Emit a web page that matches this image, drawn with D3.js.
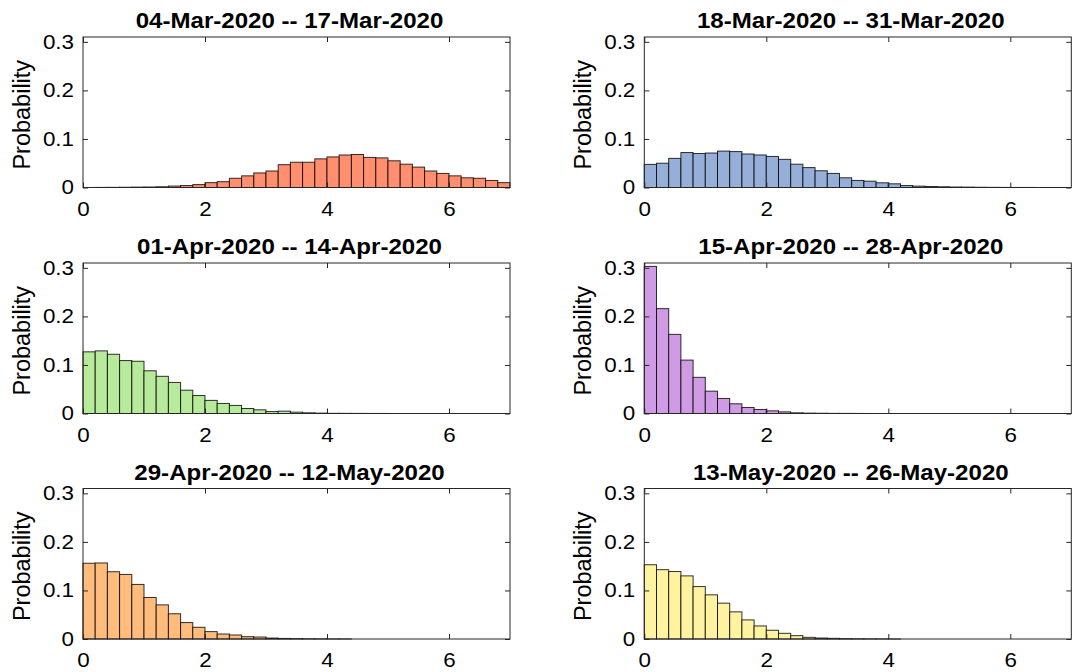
<!DOCTYPE html>
<html>
<head>
<meta charset="utf-8">
<script src="https://cdn.jsdelivr.net/npm/d3@7"></script>
<style>
  html, body { margin: 0; padding: 0; background: #fff; }
  svg { display: block; font-family: "Liberation Sans", Arial, Helvetica, sans-serif; }
</style>
</head>
<body>
<svg id="chart" width="1077" height="672"></svg>
<script>
// Histogram bins: 35 bins of width 0.2 covering [0, 7]
const binWidth = 0.2;

const periodTitles = [
  "04-Mar-2020 -- 17-Mar-2020",
  "18-Mar-2020 -- 31-Mar-2020",
  "01-Apr-2020 -- 14-Apr-2020",
  "15-Apr-2020 -- 28-Apr-2020",
  "29-Apr-2020 -- 12-May-2020",
  "13-May-2020 -- 26-May-2020"
];

const periodColors = ["#ff8f6f", "#95afd8", "#b7ea9a", "#cf9be4", "#ffbc7c", "#fff2a0"];

// Probability per bin for each two-week period
const probMar04 = [0, 0.0002, 0.0003, 0.0005, 0.0008, 0.001, 0.0015, 0.003, 0.004, 0.006,
  0.010, 0.012, 0.019, 0.024, 0.030, 0.034, 0.047, 0.052, 0.052, 0.059,
  0.063, 0.067, 0.068, 0.062, 0.061, 0.055, 0.048, 0.042, 0.034, 0.029,
  0.024, 0.020, 0.019, 0.0145, 0.010];
const probMar18 = [0.0476, 0.050, 0.060, 0.072, 0.070, 0.071, 0.075, 0.074, 0.069, 0.067,
  0.064, 0.058, 0.048, 0.041, 0.0345, 0.029, 0.020, 0.0145, 0.013, 0.0097,
  0.0076, 0.004, 0.0028, 0.002, 0.0015, 0.001, 0.0008, 0.0005, 0.0003, 0.0002,
  0.0001, 0.0001, 0, 0, 0];
const probApr01 = [0.127, 0.129, 0.122, 0.109, 0.1076, 0.088, 0.0766, 0.064, 0.048, 0.037,
  0.027, 0.0207, 0.0166, 0.0103, 0.0076, 0.004, 0.0048, 0.0028, 0.0014, 0.0008,
  0.0004, 0.0003, 0.0002, 0.0001, 0.0001, 0, 0, 0, 0, 0,
  0, 0, 0, 0, 0];
const probApr15 = [0.303, 0.216, 0.163, 0.110, 0.0745, 0.046, 0.031, 0.020, 0.0124, 0.0083,
  0.0055, 0.0034, 0.0014, 0.0008, 0.0005, 0.0003, 0.0002, 0.0001, 0, 0,
  0, 0, 0, 0, 0, 0, 0, 0, 0, 0,
  0, 0, 0, 0, 0];
const probApr29 = [0.156, 0.1566, 0.1386, 0.133, 0.1124, 0.0855, 0.0703, 0.052, 0.0338, 0.0241,
  0.0152, 0.0103, 0.0083, 0.0048, 0.0041, 0.002, 0.0012, 0.0008, 0.0005, 0.0003,
  0.0002, 0.0001, 0, 0, 0, 0, 0, 0, 0, 0,
  0, 0, 0, 0, 0];
const probMay13 = [0.153, 0.1428, 0.139, 0.130, 0.108, 0.091, 0.0738, 0.0559, 0.0393, 0.0269,
  0.018, 0.0117, 0.0069, 0.0034, 0.002, 0.0014, 0.0008, 0.0005, 0.0003, 0.0002,
  0.0001, 0, 0, 0, 0, 0, 0, 0, 0, 0,
  0, 0, 0, 0, 0];

const seriesList = [probMar04, probMar18, probApr01, probApr15, probApr29, probMay13];

const xTicks = [0, 2, 4, 6];
const yTicks = [0, 0.1, 0.2, 0.3];
const xDomain = [0, 7];
const yDomain = [0, 0.31];

// Panel grid geometry
const colLeft = [83, 644.3];
const rowTop = [37, 263, 488.5];
const plotW = 427;
const plotH = 150.5;
const axisColor = "#262626";
const textStretch = 1.12;   // slightly widened glyphs

const svg = d3.select("#chart");

seriesList.forEach((values, i) => {
  const col = i % 2, row = Math.floor(i / 2);
  const g = svg.append("g")
    .attr("transform", `translate(${colLeft[col]},${rowTop[row]})`);

  const x = d3.scaleLinear().domain(xDomain).range([0, plotW]);
  const y = d3.scaleLinear().domain(yDomain).range([plotH, 0]);

  const bins = values.map((v, k) => ({ x0: k * binWidth, x1: (k + 1) * binWidth, p: v }));

  g.append("g").selectAll("rect")
    .data(bins)
    .join("rect")
    .attr("x", d => x(d.x0))
    .attr("width", d => x(d.x1) - x(d.x0))
    .attr("y", d => y(d.p))
    .attr("height", d => y(0) - y(d.p))
    .attr("fill", periodColors[i])
    .attr("stroke", "#000")
    .attr("stroke-opacity", 0.8)
    .attr("stroke-width", 1);

  // Axes with inward ticks on all four sides
  const fmtY = d => d === 0 ? "0" : d.toFixed(1);

  const xAxis = g.append("g")
    .attr("transform", `translate(0,${plotH})`)
    .call(d3.axisBottom(x).tickValues(xTicks).tickFormat(d3.format("d"))
      .tickSizeInner(-5).tickSizeOuter(0).tickPadding(14));
  const yAxis = g.append("g")
    .call(d3.axisLeft(y).tickValues(yTicks).tickFormat(fmtY)
      .tickSizeInner(-5).tickSizeOuter(0).tickPadding(9));
  const topAxis = g.append("g")
    .call(d3.axisTop(x).tickValues(xTicks).tickFormat("")
      .tickSizeInner(-5).tickSizeOuter(0));
  const rightAxis = g.append("g")
    .attr("transform", `translate(${plotW},0)`)
    .call(d3.axisRight(y).tickValues(yTicks).tickFormat("")
      .tickSizeInner(-5).tickSizeOuter(0));

  [xAxis, yAxis, topAxis, rightAxis].forEach(a => {
    a.select(".domain").remove();
    a.selectAll(".tick line").attr("stroke", axisColor);
    a.selectAll(".tick text")
      .attr("fill", "#000")
      .style("font-size", "20px")
      .style("font-family", "'Liberation Sans', Arial, sans-serif");
  });
  xAxis.selectAll(".tick text").attr("transform", `scale(${textStretch},1)`);
  yAxis.selectAll(".tick text")
    .attr("x", 0)
    .attr("transform", `translate(-9,0) scale(${textStretch},1)`);

  g.append("rect")
    .attr("width", plotW).attr("height", plotH)
    .attr("fill", "none")
    .attr("stroke", axisColor)
    .attr("stroke-width", 1);

  g.append("text")
    .attr("transform", `translate(${plotW / 2 - 7},-9) scale(${textStretch},1)`)
    .attr("text-anchor", "middle")
    .style("font-size", "21.5px")
    .style("font-weight", "bold")
    .attr("fill", "#000")
    .text(periodTitles[i]);

  g.append("text")
    .attr("transform", `translate(${-53.5},${plotH / 2 + 2.5}) rotate(-90)`)
    .attr("text-anchor", "middle")
    .style("font-size", "23.5px")
    .attr("fill", "#000")
    .text("Probability");
});
</script>
</body>
</html>
